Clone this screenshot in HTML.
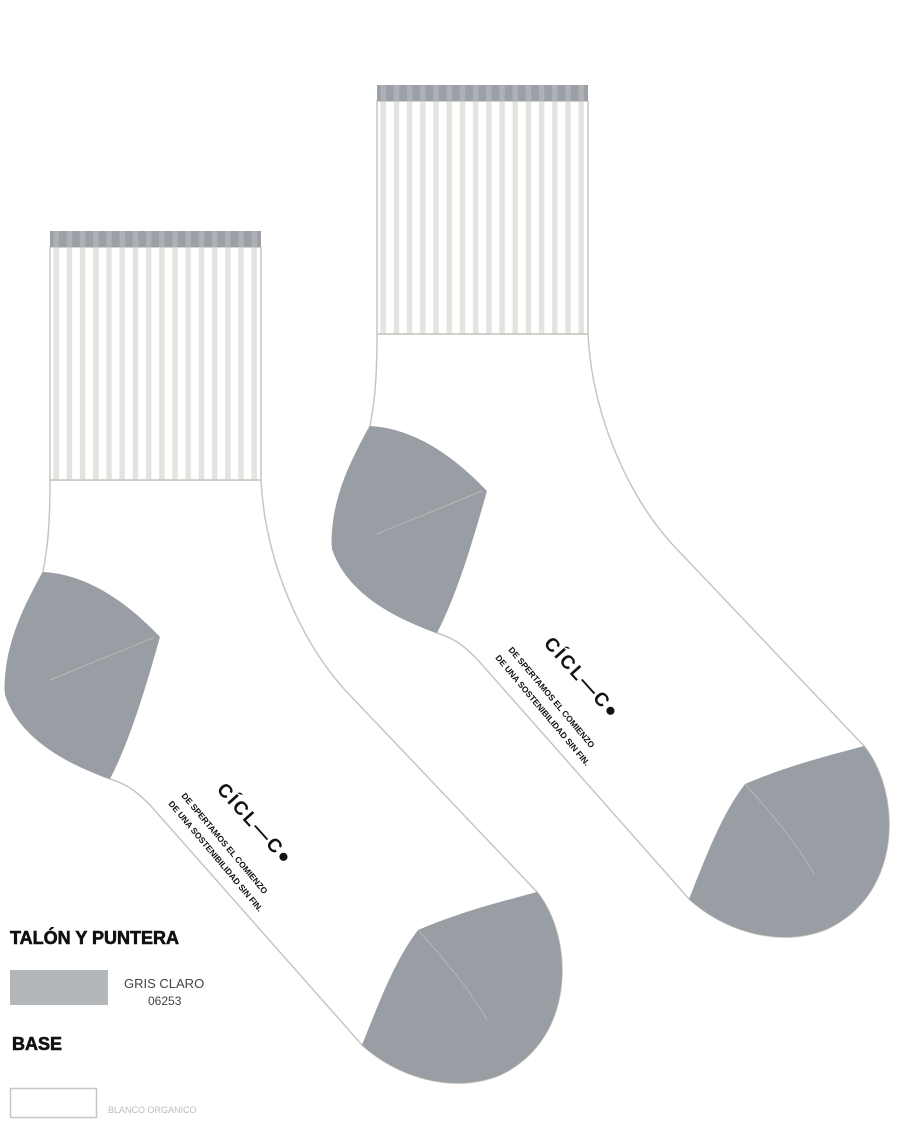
<!DOCTYPE html>
<html><head><meta charset="utf-8"><style>
html,body{margin:0;padding:0;background:#fff;}
body{width:914px;height:1146px;position:relative;overflow:hidden;font-family:"Liberation Sans",sans-serif;}
</style></head><body>
<svg width="914" height="1146" viewBox="0 0 914 1146" xmlns="http://www.w3.org/2000/svg" style="position:absolute;left:0;top:0">
<defs>
<pattern id="st" x="50" y="0" width="13.2" height="10" patternUnits="userSpaceOnUse">
<rect x="3.5" y="0" width="5.5" height="10" fill="#e3e3df"/>
</pattern>
<pattern id="bd" x="50" y="0" width="13.2" height="10" patternUnits="userSpaceOnUse">
<rect x="0" y="0" width="13.2" height="10" fill="#9ba0a6"/>
<rect x="3.5" y="0" width="5.5" height="10" fill="#adb1b5"/>
</pattern>
<g id="sock">
<path d="M50,480 C50,530 47,550 43,572 C20,615 5,650 5,690 C20,730 60,760 110,779 C130,785 140,795 150,805 L362,1045 C395,1075 450,1095 500,1075 C575,1040 575,940 537,892 L345,690 C300,640 265,560 261,480 Z" fill="#fff" stroke="#c8c6c0" stroke-width="1.5"/>
<rect x="50" y="247" width="211" height="233" fill="#fff"/>
<rect x="50" y="247" width="211" height="233" fill="url(#st)" stroke="#c8c6c0" stroke-width="1.5"/>
<rect x="50" y="231" width="211" height="16" fill="url(#bd)"/>
<path d="M43,572 C85,574 125,600 160,637 C145,690 130,740 110,779 C60,762 18,735 5,695 C3,650 20,612 43,572 Z" fill="#989ea4"/>
<path d="M50,680 L155,637" stroke="#b8b8b2" stroke-width="1"/>
<path d="M537,892 C575,940 575,1040 500,1075 C450,1095 395,1075 362,1045 C380,1000 395,960 418,930 C460,912 500,902 537,892 Z" fill="#989ea4"/>
<path d="M418,930 C445,960 470,990 487,1020" stroke="#b8b8b2" stroke-width="1" fill="none"/>
<text transform="translate(216,790) rotate(48)" font-family="Liberation Sans,sans-serif" font-size="19" font-weight="bold" fill="#111" letter-spacing="2">CÍCL—C●</text>
<g font-family="Liberation Sans,sans-serif" font-size="8.5" font-weight="900" fill="#111">
<text transform="translate(181,796) rotate(50)">DE SPERTAMOS EL COMIENZO</text>
<text transform="translate(168,804) rotate(50)">DE UNA SOSTENIBILIDAD SIN FIN.</text>
</g>
</g>
</defs>
<use href="#sock"/>
<use href="#sock" transform="translate(327,-146)"/>
<text x="10" y="944" font-size="18" font-weight="900" fill="#111" stroke="#111" stroke-width="0.6">TALÓN Y PUNTERA</text>
<rect x="10" y="970" width="98" height="35" fill="#b4b7ba"/>
<text x="124" y="988" font-size="13" fill="#444">GRIS CLARO</text>
<text x="148" y="1005" font-size="12" fill="#444">06253</text>
<text x="12" y="1050" font-size="18" font-weight="900" fill="#111" stroke="#111" stroke-width="0.6">BASE</text>
<rect x="10.5" y="1088.5" width="86" height="29" fill="#fff" stroke="#c8c6c0" stroke-width="1.5"/>
<text x="108" y="1113" font-size="9" fill="#b8bcc4">BLANCO ORGANICO</text>
</svg>
</body></html>
